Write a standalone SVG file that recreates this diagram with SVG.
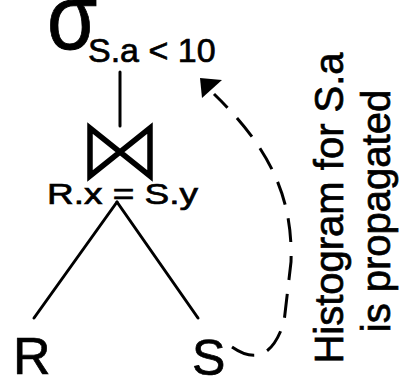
<svg xmlns="http://www.w3.org/2000/svg" width="401" height="380" viewBox="0 0 401 380">
  <defs>
    <style>
      text { font-family: "Liberation Sans", Arial, sans-serif; fill: #000; stroke: #000; stroke-width: 0.7; }
      .edge { stroke: #000; stroke-width: 3; fill: none; stroke-linecap: round; }
      .dash { stroke: #000; stroke-width: 3; fill: none; stroke-dasharray: 24 14; }
    </style>
  </defs>
  <rect width="401" height="380" fill="#fff"/>

  <!-- selection operator -->
  <g id="select">
    <text transform="translate(47,49) scale(1.1,1.25)" font-size="74" stroke-width="1.6">σ</text>
    <text x="88" y="62" font-size="34">S.a &lt; 10</text>
  </g>

  <!-- join operator -->
  <g id="join">
    <path d="M90 128 L90 176 L120 152 Z M150 128 L150 176 L120 152 Z" fill="none" stroke="#000" stroke-width="5.5" stroke-linejoin="miter"/>
    <text x="47" y="204" font-size="30" textLength="151" lengthAdjust="spacingAndGlyphs">R.x = S.y</text>
  </g>

  <g id="rel-r">
    <text x="13" y="374" font-size="52">R</text>
  </g>
  <g id="rel-s">
    <text x="192" y="375" font-size="50">S</text>
  </g>

  <g id="note">
    <text transform="translate(343,208) rotate(-90)" font-size="40" text-anchor="middle">Histogram for S.a</text>
    <text transform="translate(390,211) rotate(-90)" font-size="40" text-anchor="middle">is propagated</text>
  </g>

  <!-- connectors -->
  <g id="connectors">
    <line class="edge" x1="120" y1="72" x2="120" y2="126"/>
    <line class="edge" x1="117" y1="202" x2="34" y2="318"/>
    <line class="edge" x1="117" y1="202" x2="198" y2="318"/>
    <path class="dash" d="M232 347 Q268 372 284 322 L291 262 C293 200 272 150 214 94"/>
    <path d="M200 78 L222 80 L202 98 Z" fill="#000"/>
  </g>
</svg>
